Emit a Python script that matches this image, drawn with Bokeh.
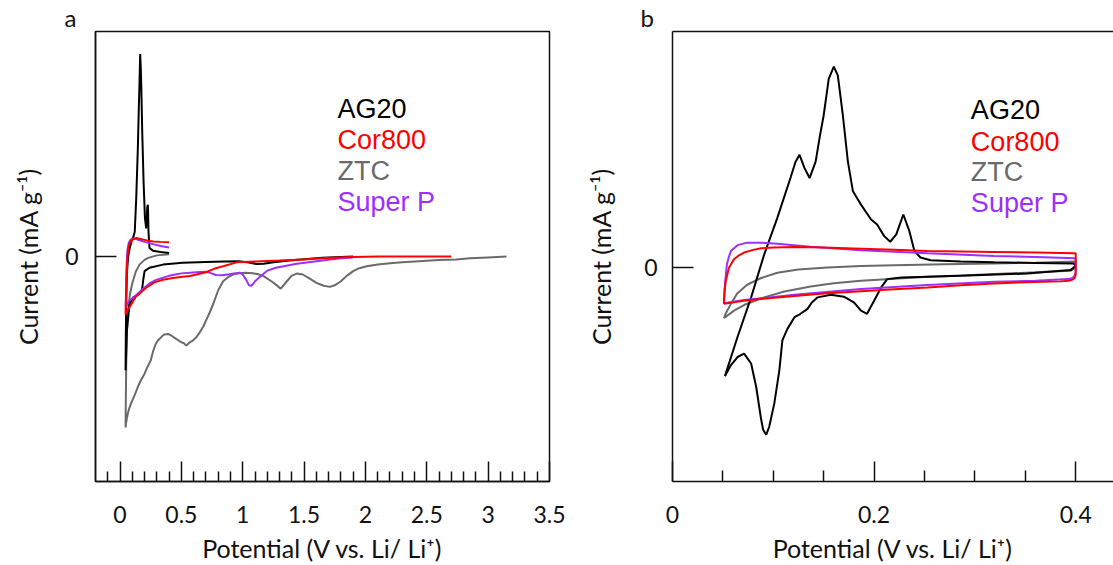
from bokeh.plotting import figure
from bokeh.models import Range1d, FixedTicker, CustomJSTickFormatter, LinearAxis, Label, Title
from bokeh.layouts import row
from bokeh.embed import file_html
from bokeh.resources import INLINE

# ---------------- Panel a data (Potential V, current arb.) ----------------
a_ag20_x = [1.90, 1.80, 1.65, 1.50, 1.38, 1.25, 1.17, 1.11, 1.05, 0.97, 0.85, 0.70, 0.51, 0.35, 0.24,
            0.20, 0.19, 0.18, 0.17, 0.13, 0.105, 0.077, 0.056, 0.045,
            0.047, 0.050, 0.054, 0.058, 0.066, 0.08, 0.095, 0.11, 0.12, 0.132, 0.145, 0.153, 0.159,
            0.164, 0.169, 0.173, 0.181, 0.192, 0.203, 0.213, 0.218, 0.222, 0.227, 0.232, 0.24,
            0.268, 0.33, 0.40]
a_ag20_y = [0.0, -0.002, -0.006, -0.012, -0.018, -0.026, -0.032, -0.033, -0.027, -0.021, -0.022,
            -0.024, -0.028, -0.036, -0.05, -0.065, -0.10, -0.145, -0.158, -0.175, -0.183, -0.212,
            -0.33, -0.506,
            -0.36, -0.22, -0.12, -0.06, 0.0, 0.04, 0.07, 0.09, 0.11, 0.26, 0.48, 0.66, 0.78,
            0.90, 0.84, 0.76, 0.55, 0.33, 0.17, 0.125, 0.17, 0.22, 0.23, 0.11, 0.038,
            0.026, 0.02, 0.016]

a_cor_x = [2.70, 2.40, 2.10, 1.82, 1.65, 1.49, 1.30, 1.11, 0.95, 0.84, 0.78, 0.70, 0.65, 0.57,
           0.51, 0.43, 0.35, 0.28, 0.21, 0.16, 0.13, 0.105, 0.077, 0.06, 0.045,
           0.046, 0.050, 0.054, 0.058, 0.065, 0.075, 0.09, 0.11, 0.132, 0.16, 0.19, 0.23, 0.27,
           0.33, 0.40]
a_cor_y = [0.0, 0.0, 0.0, -0.003, -0.008, -0.013, -0.018, -0.022, -0.026, -0.043, -0.052, -0.07,
           -0.077, -0.087, -0.09, -0.096, -0.103, -0.115, -0.14, -0.165, -0.178, -0.2, -0.225,
           -0.24, -0.258,
           -0.22, -0.15, -0.07, -0.02, 0.03, 0.055, 0.07, 0.078, 0.082, 0.079, 0.075, 0.07, 0.067,
           0.065, 0.063]

a_ztc_x = [3.15, 3.0, 2.85, 2.74, 2.6, 2.47, 2.3, 2.2, 2.1, 2.01, 1.95, 1.9, 1.85, 1.80, 1.75,
           1.71, 1.66, 1.60, 1.54, 1.49, 1.44, 1.40, 1.36, 1.31, 1.27, 1.23, 1.17, 1.12, 1.08,
           1.02, 0.97, 0.92, 0.88, 0.84, 0.80, 0.76, 0.73, 0.70, 0.68, 0.65, 0.62, 0.59, 0.57,
           0.54, 0.52, 0.50, 0.46, 0.42, 0.39, 0.36, 0.34, 0.31, 0.29, 0.27, 0.25, 0.22, 0.20,
           0.17, 0.145, 0.12, 0.09, 0.075, 0.064, 0.055, 0.048, 0.045,
           0.046, 0.048, 0.050, 0.055, 0.060, 0.070, 0.080, 0.095, 0.11, 0.13, 0.16, 0.20, 0.23,
           0.30, 0.40]
a_ztc_y = [0.0, -0.004, -0.008, -0.013, -0.016, -0.02, -0.026, -0.03, -0.036, -0.043, -0.052,
           -0.065, -0.085, -0.11, -0.128, -0.135, -0.13, -0.117, -0.096, -0.08, -0.076, -0.085,
           -0.11, -0.143, -0.125, -0.109, -0.087, -0.078, -0.074, -0.072, -0.074, -0.08, -0.092,
           -0.11, -0.15, -0.21, -0.25, -0.285, -0.31, -0.337, -0.36, -0.375, -0.381, -0.396,
           -0.385, -0.381, -0.367, -0.352, -0.344, -0.347, -0.356, -0.372, -0.389, -0.42, -0.462,
           -0.495, -0.521, -0.55, -0.58, -0.615, -0.653, -0.675, -0.697, -0.72, -0.745, -0.76,
           -0.70, -0.60, -0.50, -0.35, -0.28, -0.22, -0.17, -0.13, -0.10, -0.065, -0.035, -0.015,
           -0.006, 0.005, 0.01]

a_sp_x = [1.90, 1.80, 1.65, 1.44, 1.27, 1.20, 1.165, 1.13, 1.10, 1.08, 1.065, 1.05, 1.03, 1.00,
          0.975, 0.93, 0.89, 0.83, 0.78, 0.74, 0.70, 0.62, 0.57, 0.50, 0.46, 0.40, 0.35, 0.29,
          0.24, 0.19, 0.15, 0.12, 0.09, 0.07, 0.055, 0.048,
          0.048, 0.050, 0.053, 0.057, 0.062, 0.07, 0.08, 0.095, 0.11, 0.13, 0.16, 0.2, 0.27,
          0.33, 0.40]
a_sp_y = [-0.004, -0.008, -0.018, -0.032, -0.05, -0.063, -0.079, -0.095, -0.11, -0.125, -0.131,
          -0.127, -0.105, -0.08, -0.072, -0.075, -0.079, -0.083, -0.082, -0.074, -0.068, -0.07,
          -0.072, -0.075, -0.079, -0.086, -0.094, -0.105, -0.12, -0.142, -0.162, -0.178, -0.19,
          -0.2, -0.215, -0.228,
          -0.2, -0.13, -0.05, 0.0, 0.035, 0.058, 0.07, 0.078, 0.08, 0.078, 0.072, 0.065, 0.055,
          0.047, 0.04]

# ---------------- Panel b data ----------------
b_ag20_x = [0.052, 0.0645, 0.078, 0.091, 0.104, 0.117, 0.122, 0.126, 0.131, 0.136, 0.142, 0.146,
            0.15, 0.155, 0.16, 0.164, 0.169, 0.174, 0.179, 0.187, 0.197, 0.203, 0.21, 0.216,
            0.222, 0.229, 0.235, 0.24, 0.246, 0.256, 0.286, 0.319, 0.36, 0.398, 0.40,
            0.395, 0.352, 0.286, 0.227, 0.213, 0.207, 0.2, 0.193, 0.187, 0.18, 0.17, 0.157,
            0.144, 0.138, 0.134, 0.127, 0.121, 0.114, 0.109, 0.106, 0.101, 0.096, 0.093, 0.09,
            0.088, 0.083, 0.078, 0.071, 0.0645, 0.058, 0.052]
b_ag20_y = [-0.481, -0.307, -0.131, 0.06, 0.222, 0.399, 0.47, 0.502, 0.443, 0.399, 0.472, 0.58,
            0.678, 0.84, 0.894, 0.855, 0.678, 0.472, 0.34, 0.281, 0.215, 0.193, 0.141, 0.116,
            0.149, 0.237, 0.163, 0.075, 0.046, 0.034, 0.028, 0.025, 0.022, 0.019, 0.009,
            -0.01, -0.025, -0.035, -0.043, -0.05, -0.087, -0.146, -0.204, -0.19, -0.153, -0.128,
            -0.119, -0.131, -0.155, -0.182, -0.204, -0.219, -0.271, -0.322, -0.455, -0.602,
            -0.705, -0.741, -0.72, -0.675, -0.528, -0.425, -0.381, -0.396, -0.432, -0.481]

b_cor_x = [0.051, 0.0515, 0.0529, 0.056, 0.061, 0.066, 0.071, 0.08, 0.088, 0.1, 0.121, 0.15,
           0.187, 0.22, 0.253, 0.286, 0.319, 0.36, 0.398, 0.400,
           0.400, 0.400, 0.399, 0.397, 0.393, 0.385, 0.35, 0.319, 0.286, 0.253, 0.22, 0.187,
           0.15, 0.121, 0.09, 0.071, 0.051]
b_cor_y = [-0.16, -0.11, -0.057, 0.001, 0.038, 0.056, 0.068, 0.08, 0.087, 0.091, 0.093, 0.09,
           0.085, 0.08, 0.075, 0.073, 0.071, 0.068, 0.065, 0.065,
           0.03, -0.03, -0.045, -0.052, -0.057, -0.06, -0.064, -0.069, -0.077, -0.087, -0.095,
           -0.104, -0.114, -0.125, -0.137, -0.146, -0.16]

b_ztc_x = [0.051, 0.053, 0.058, 0.064, 0.074, 0.088, 0.104, 0.125, 0.154, 0.187, 0.22, 0.27,
           0.319, 0.36, 0.4,
           0.4, 0.399, 0.395, 0.36, 0.32, 0.286, 0.25, 0.22, 0.187, 0.16, 0.137, 0.111, 0.088,
           0.071, 0.061, 0.051]
b_ztc_y = [-0.224, -0.2, -0.16, -0.115, -0.075, -0.045, -0.022, -0.007, 0.002, 0.008, 0.012,
           0.016, 0.019, 0.023, 0.028,
           0.028, 0.0, -0.013, -0.02, -0.027, -0.034, -0.041, -0.048, -0.057, -0.068, -0.083,
           -0.105, -0.135, -0.165, -0.19, -0.224]

b_sp_x = [0.051, 0.0515, 0.052, 0.054, 0.056, 0.058, 0.0645, 0.074, 0.088, 0.104, 0.137, 0.187,
          0.253, 0.319, 0.36, 0.400,
          0.400, 0.399, 0.397, 0.393, 0.36, 0.319, 0.253, 0.187, 0.121, 0.071, 0.051]
b_sp_y = [-0.157, -0.12, -0.072, 0.016, 0.05, 0.075, 0.101, 0.112, 0.112, 0.107, 0.094, 0.078,
          0.065, 0.053, 0.048, 0.043,
          -0.02, -0.035, -0.045, -0.05, -0.057, -0.062, -0.076, -0.094, -0.119, -0.143, -0.157]

series_names = ["AG20", "Cor800", "ZTC", "Super P"]
series_colors = ["#000000", "#ff0000", "#6a6a6a", "#9b30ff"]

a_xticks_major = [0, 0.5, 1, 1.5, 2, 2.5, 3, 3.5]
a_xticks_minor = [-0.1, 0.1, 0.2, 0.3, 0.4, 0.6, 0.7, 0.8, 0.9, 1.1, 1.2, 1.3, 1.4, 1.6, 1.7,
                  1.8, 1.9, 2.1, 2.2, 2.3, 2.4, 2.6, 2.7, 2.8, 2.9, 3.1, 3.2, 3.3, 3.4]
b_xticks_major = [0, 0.2, 0.4]
b_xticks_minor = [0.05, 0.1, 0.15, 0.25, 0.3, 0.35]

XLABEL = "Potential (V vs. Li/ Li\u207a)"
YLABEL = "Current (mA g\u207b\u00b9)"

AX_FONT = "Lato"
LEG_FONT = "Liberation Sans"
INK = "#111111"

fmt_code = "return String(Math.round(tick*100)/100);"


def make_fig(width, xr, yr, bl, br, xmaj, xmin, ylab_standoff, ytitle_standoff, outline,
             panel_letter, letter_offset):
    p = figure(width=width, height=565, output_backend="svg", toolbar_location=None,
               x_range=Range1d(*xr), y_range=Range1d(*yr),
               min_border_left=bl, min_border_right=br, min_border_top=29, min_border_bottom=83,
               background_fill_color="white", border_fill_color="white")
    p.title = Title(text=panel_letter, align="left", offset=letter_offset, standoff=0,
                    text_font=AX_FONT, text_font_size="24px", text_font_style="normal",
                    text_color=INK)
    p.xgrid.grid_line_color = None
    p.ygrid.grid_line_color = None
    if outline:
        p.outline_line_color = INK
        p.outline_line_width = 1.5
    else:
        p.outline_line_color = None
    xa = p.xaxis[0]
    xa.ticker = FixedTicker(ticks=xmaj, minor_ticks=xmin)
    xa.formatter = CustomJSTickFormatter(code=fmt_code)
    xa.major_tick_in = 20
    xa.major_tick_out = 0
    xa.minor_tick_in = 10
    xa.minor_tick_out = 0
    xa.major_tick_line_width = 1.5
    xa.minor_tick_line_width = 1.5
    xa.axis_line_width = 1.5
    xa.axis_line_color = INK
    xa.major_tick_line_color = INK
    xa.minor_tick_line_color = INK
    xa.major_label_text_font = AX_FONT
    xa.major_label_text_font_size = "23px"
    xa.major_label_text_color = INK
    xa.major_label_standoff = 24
    xa.axis_label = XLABEL
    xa.axis_label_text_font = AX_FONT
    xa.axis_label_text_font_size = "25px"
    xa.axis_label_text_font_style = "normal"
    xa.axis_label_text_color = INK
    xa.axis_label_standoff = 7

    ya = p.yaxis[0]
    ya.ticker = FixedTicker(ticks=[0], minor_ticks=[])
    ya.formatter = CustomJSTickFormatter(code=fmt_code)
    ya.major_tick_in = 21
    ya.major_tick_out = 0
    ya.minor_tick_line_color = None
    ya.minor_tick_out = 0
    ya.major_tick_line_width = 1.5
    ya.axis_line_width = 1.5
    ya.axis_line_color = INK
    ya.major_tick_line_color = INK
    ya.major_label_text_font = AX_FONT
    ya.major_label_text_font_size = "23px"
    ya.major_label_text_color = INK
    ya.major_label_standoff = ylab_standoff
    ya.axis_label = YLABEL
    ya.axis_label_text_font = AX_FONT
    ya.axis_label_text_font_size = "25px"
    ya.axis_label_text_font_style = "normal"
    ya.axis_label_text_color = INK
    ya.axis_label_standoff = ytitle_standoff
    return p


# ---------------- Panel a ----------------
pa = make_fig(575, (-0.2, 3.5), (-1.0, 1.0), 95, 26, a_xticks_major, a_xticks_minor, 17, 19, True,
              "a", -31)
pa.line(a_ztc_x, a_ztc_y, line_color=series_colors[2], line_width=2)
pa.line(a_ag20_x, a_ag20_y, line_color=series_colors[0], line_width=2)
pa.line(a_sp_x, a_sp_y, line_color=series_colors[3], line_width=2)
pa.line(a_cor_x, a_cor_y, line_color=series_colors[1], line_width=2)

a_leg_x = 1.772
a_leg_y = [0.656, 0.516, 0.380, 0.241]
for name, col, yy in zip(series_names, series_colors, a_leg_y):
    pa.add_layout(Label(x=a_leg_x, y=yy, text=name, text_color=col, text_font=LEG_FONT,
                        text_font_size="27px", text_baseline="middle", text_align="left"))

# ---------------- Panel b ----------------
pb = make_fig(538, (0.0, 0.4375), (-0.949, 1.050), 97, 0, b_xticks_major, b_xticks_minor, 15, 25, False,
              "b", -32)
pb.xaxis[0].minor_tick_in = 11
top_axis = LinearAxis(ticker=FixedTicker(ticks=[], minor_ticks=[]), major_label_text_font_size="0px",
                      major_tick_out=0, minor_tick_out=0, major_label_standoff=0,
                      axis_line_width=1.5, axis_line_color=INK,
                      major_tick_line_color=None, minor_tick_line_color=None)
pb.add_layout(top_axis, "above")
pb.line(b_ztc_x, b_ztc_y, line_color=series_colors[2], line_width=2)
pb.line(b_ag20_x, b_ag20_y, line_color=series_colors[0], line_width=2)
pb.line(b_sp_x, b_sp_y, line_color=series_colors[3], line_width=2)
pb.line(b_cor_x, b_cor_y, line_color=series_colors[1], line_width=2)

b_leg_x = 0.296
b_leg_y = [0.700, 0.560, 0.425, 0.288]
for name, col, yy in zip(series_names, series_colors, b_leg_y):
    pb.add_layout(Label(x=b_leg_x, y=yy, text=name, text_color=col, text_font=LEG_FONT,
                        text_font_size="27px", text_baseline="middle", text_align="left"))

layout = row(pa, pb)
open("out.html", "w").write(file_html(layout, INLINE))
